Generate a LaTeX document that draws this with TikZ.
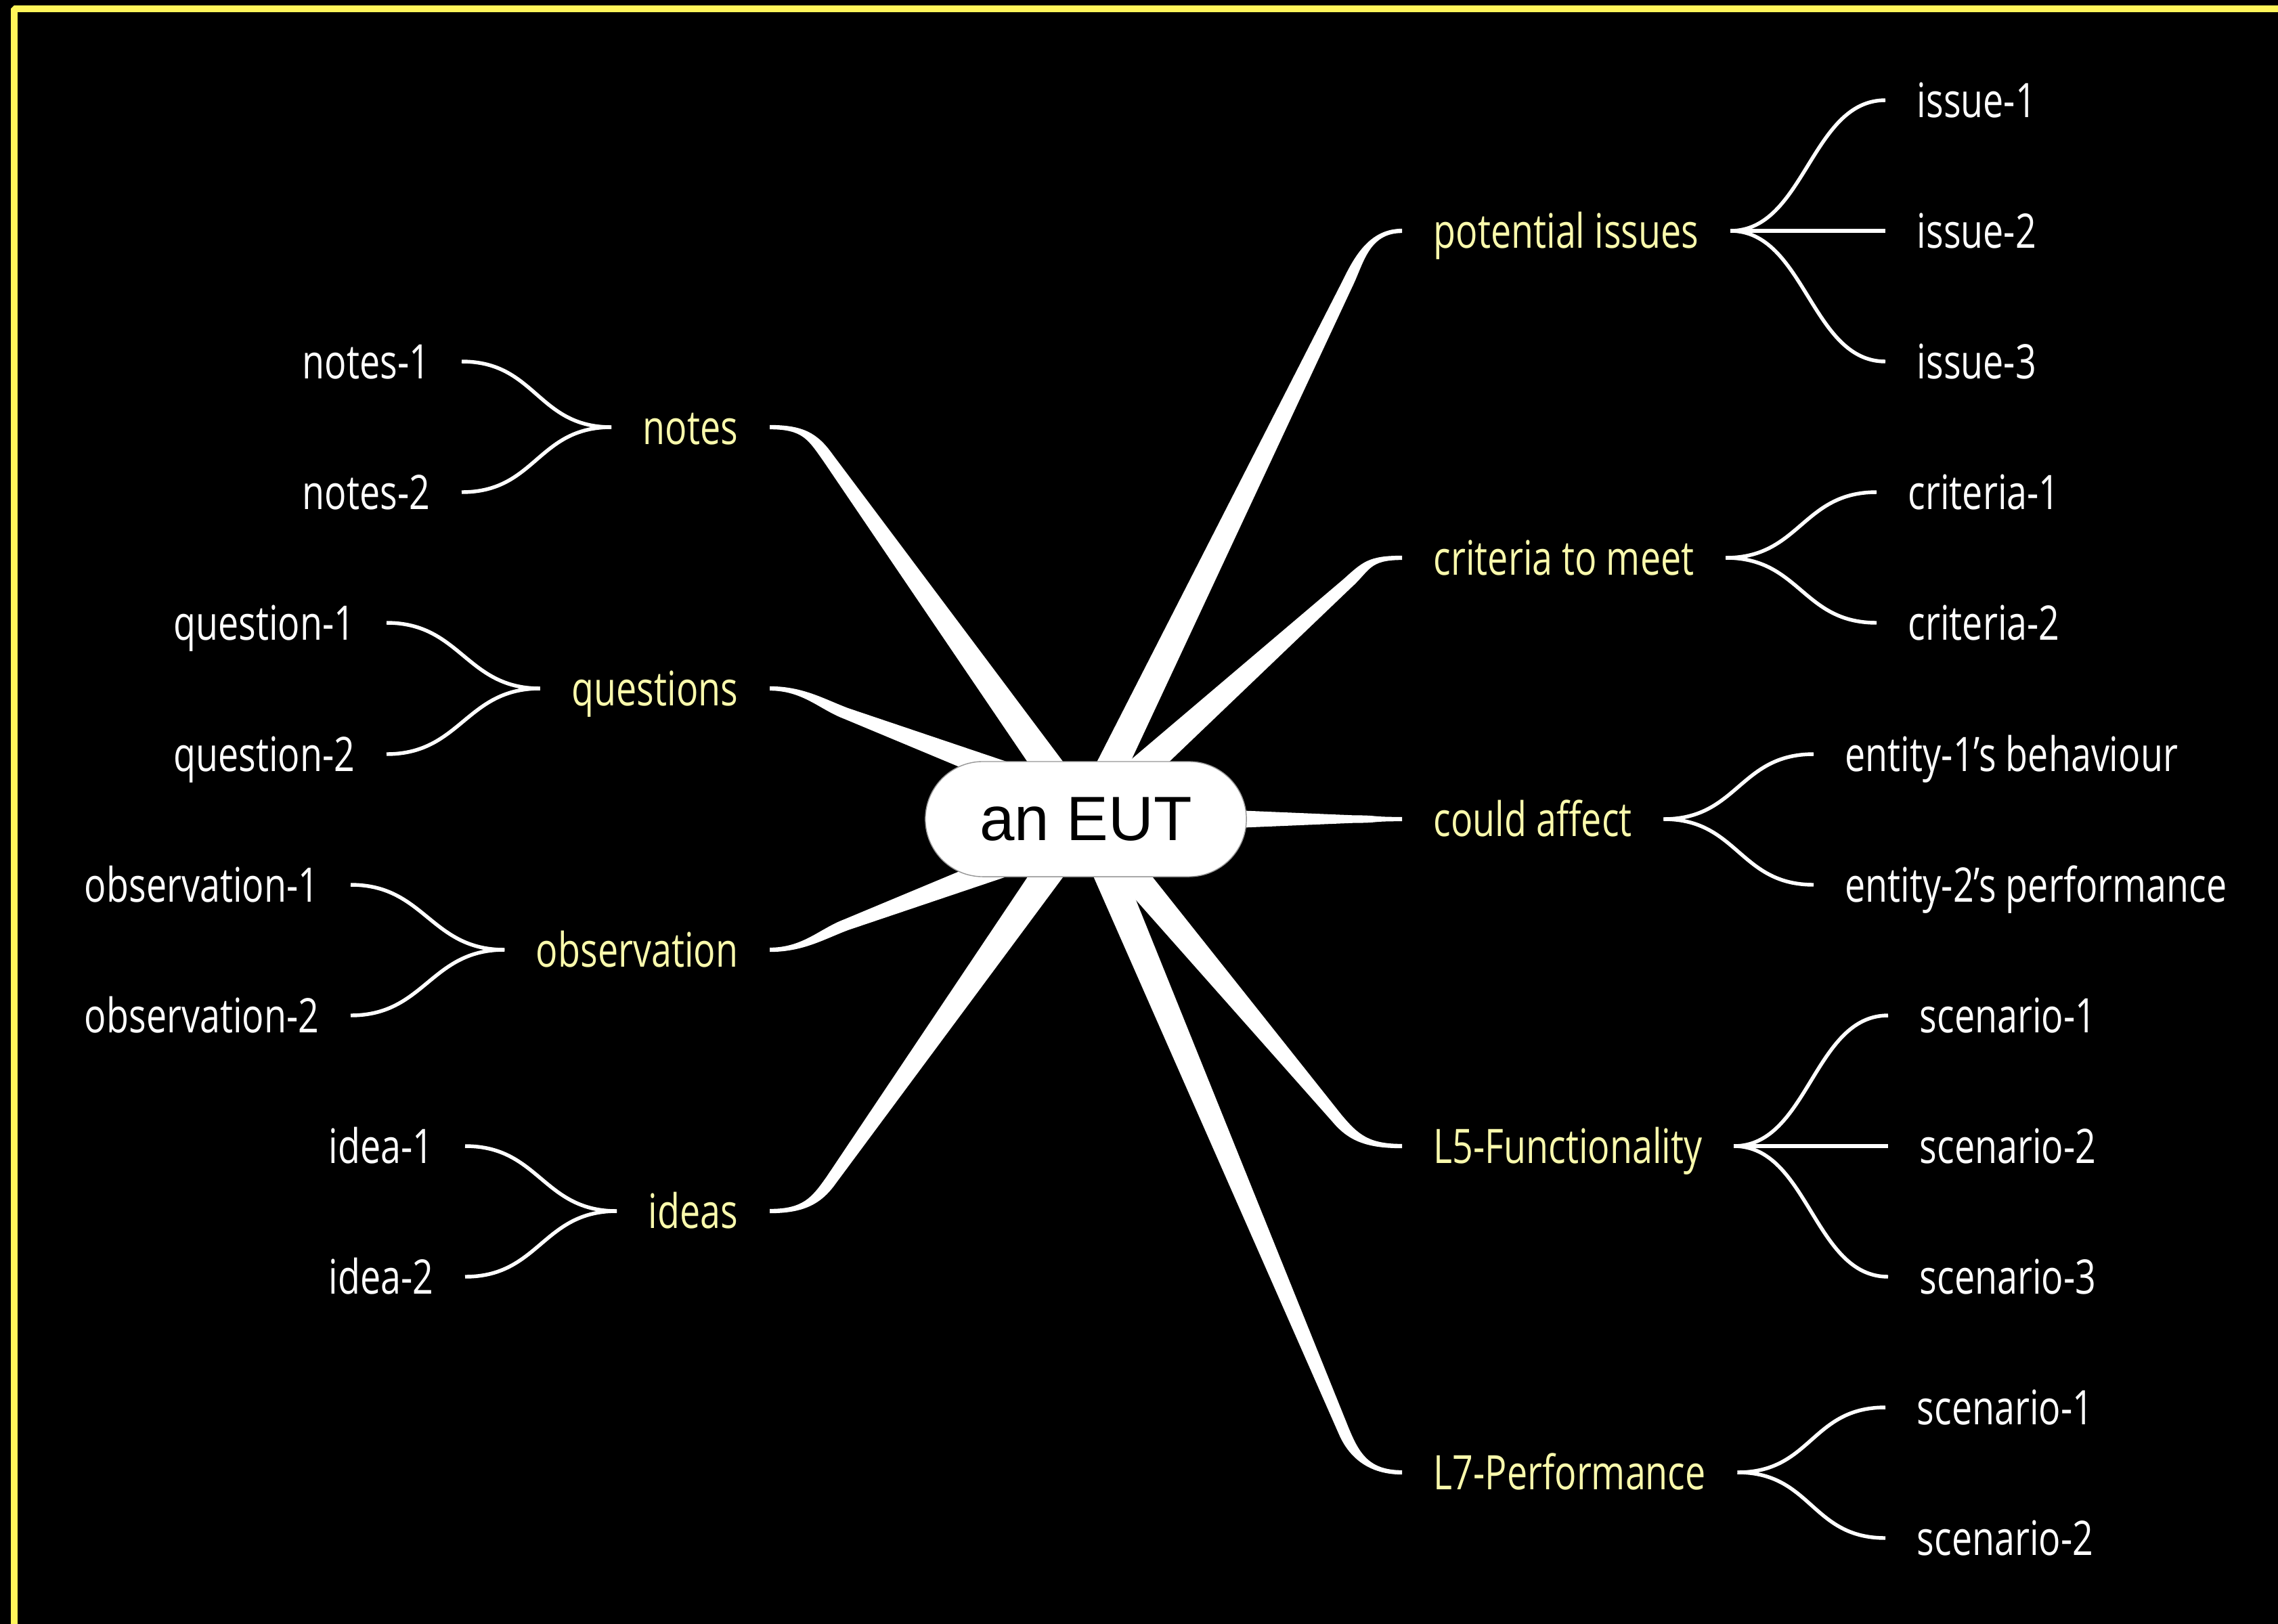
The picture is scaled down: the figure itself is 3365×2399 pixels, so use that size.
\documentclass[tikz,border=0pt]{standalone}
\usepackage{fontspec}
\usetikzlibrary{calc,shapes.misc}
\newfontfamily\leaffont{Open Sans}[FakeStretch=0.765]
\newfontfamily\hubfont{Liberation Sans}
\definecolor{frameyellow}{RGB}{255,245,90}
\definecolor{branchyellow}{RGB}{250,250,172}
\definecolor{hubedge}{RGB}{150,150,150}
\pgfdeclarelayer{backdrop}
\pgfdeclarelayer{limbs}
\pgfsetlayers{backdrop,limbs,main}

% half widths (pt) at origin, corner and tip; control distances (pt)
\def\wa{6.8}\def\wb{2.4}\def\wc{0.9}\def\ca{11}\def\cb{14}

% tapered limb: #1 origin, #2 corner, #3 tip, #4 side (1 = right, -1 = left)
\newcommand\taper[4]{%
  \fill[white] let
    \p1 = (#1), \p2 = (#2), \p3 = (#3),
    \n1 = {veclen(\x2-\x1,\y2-\y1)},
    \n2 = {(\x2-\x1)/\n1},
    \n3 = {(\y2-\y1)/\n1},
    \n4 = {#4}
  in
    ({\x1-\n3*\wa},{\y1+\n2*\wa})
    -- ({\x2-\n3*\wb},{\y2+\n2*\wb})
    .. controls ({\x2+\n2*\ca-\n3*\wb},{\y2+\n3*\ca+\n2*\wb})
            and ({\x3-\n4*\cb},{\y3+\n4*\wc})
    .. ({\x3},{\y3+\n4*\wc})
    -- ({\x3},{\y3-\n4*\wc})
    .. controls ({\x3-\n4*\cb},{\y3-\n4*\wc})
            and ({\x2+\n2*\ca+\n3*\wb},{\y2+\n3*\ca-\n2*\wb})
    .. ({\x2+\n3*\wb},{\y2-\n2*\wb})
    -- ({\x1+\n3*\wa},{\y1-\n2*\wa})
    -- cycle;
}

\begin{document}
\begin{tikzpicture}[x=0.01cm,y=-0.01cm,
  hub/.style={rounded rectangle, fill=white, draw=hubedge, line width=0.4pt,
    minimum width=4.74cm, minimum height=1.70cm, inner sep=0pt,
    font=\hubfont\fontsize{26.3pt}{30pt}\selectfont, text=black},
  topic/.style={text=branchyellow, font=\leaffont\fontsize{20pt}{23pt}\selectfont,
    inner xsep=0.46cm, inner ysep=0pt, text height=14.3pt, text depth=0pt},
  leaf/.style={topic, text=white},
  twig/.style={draw=white, line width=1.55pt},
]
\useasboundingbox (0,0) rectangle (3365,2399);
\begin{pgfonlayer}{backdrop}
  \fill[black] (0,0) rectangle (3365,2399);
  \draw[frameyellow, line width=2.85pt, line join=bevel] (21,2399) -- (21,13) -- (3365,13);
\end{pgfonlayer}

% central topic
\node[hub] (eut) at (1604,1210) {an EUT};

% right-hand topics
\node[topic, anchor=west] (pi) at (2071,341)  {potential issues};
\node[topic, anchor=west] (cm) at (2071,824)  {criteria to meet};
\node[topic, anchor=west] (ca) at (2071,1210) {could affect};
\node[topic, anchor=west] (lf) at (2071,1693) {L5-Functionality};
\node[topic, anchor=west] (lp) at (2071,2175) {L7-Performance};

% right-hand leaves
\node[leaf, anchor=west] (i1) at (2785,148)  {issue-1};
\node[leaf, anchor=west] (i2) at (2785,341)  {issue-2};
\node[leaf, anchor=west] (i3) at (2785,534)  {issue-3};
\node[leaf, anchor=west] (c1) at (2772,727)  {criteria-1};
\node[leaf, anchor=west] (c2) at (2772,920)  {criteria-2};
\node[leaf, anchor=west] (e1) at (2679,1114) {entity-1’s behaviour};
\node[leaf, anchor=west] (e2) at (2679,1307) {entity-2’s performance};
\node[leaf, anchor=west] (s1) at (2789,1500) {scenario-1};
\node[leaf, anchor=west] (s2) at (2789,1693) {scenario-2};
\node[leaf, anchor=west] (s3) at (2789,1886) {scenario-3};
\node[leaf, anchor=west] (t1) at (2785,2079) {scenario-1};
\node[leaf, anchor=west] (t2) at (2785,2272) {scenario-2};

% left-hand topics
\node[topic, anchor=east] (nt) at (1137,631)  {notes};
\node[topic, anchor=east] (qs) at (1137,1017) {questions};
\node[topic, anchor=east] (ob) at (1137,1403) {observation};
\node[topic, anchor=east] (id) at (1137,1789) {ideas};

% left-hand leaves
\node[leaf, anchor=east] (n1) at (682,534)  {notes-1};
\node[leaf, anchor=east] (n2) at (682,727)  {notes-2};
\node[leaf, anchor=east] (q1) at (571,920)  {question-1};
\node[leaf, anchor=east] (q2) at (571,1114) {question-2};
\node[leaf, anchor=east] (o1) at (518,1307) {observation-1};
\node[leaf, anchor=east] (o2) at (518,1500) {observation-2};
\node[leaf, anchor=east] (d1) at (687,1693) {idea-1};
\node[leaf, anchor=east] (d2) at (687,1886) {idea-2};

% limb origins and bends
\coordinate (oside) at (1664,1210);
\coordinate (oca)   at (1700,1210);
\coordinate (kpi) at (1990,420);
\coordinate (kcm) at (1990,862);
\coordinate (kca) at (2000,1210);
\coordinate (klf) at (1975,1652);
\coordinate (klp) at (1985,2114);
\coordinate (knt) at (1223,676);
\coordinate (kqs) at (1250,1054);
\coordinate (kob) at (1250,1366);
\coordinate (kid) at (1228,1743);

\begin{pgfonlayer}{limbs}
  \taper{eut.center}{kpi}{pi.west}{1}
  \taper{eut.center}{kcm}{cm.west}{1}
  {\def\wa{5.2}\def\wb{1.6}\taper{oca}{kca}{ca.west}{1}}
  \taper{eut.center}{klf}{lf.west}{1}
  \taper{eut.center}{klp}{lp.west}{1}
  \taper{eut.center}{knt}{nt.east}{-1}
  \taper{oside}{kqs}{qs.east}{-1}
  \taper{oside}{kob}{ob.east}{-1}
  \taper{eut.center}{kid}{id.east}{-1}
\end{pgfonlayer}

% twigs to the leaves
\draw[twig] (pi.east) .. controls +(110,0) and +(-110,0) .. (i1.west);
\draw[twig] (pi.east) -- (i2.west);
\draw[twig] (pi.east) .. controls +(110,0) and +(-110,0) .. (i3.west);
\draw[twig] (cm.east) .. controls +(110,0) and +(-110,0) .. (c1.west);
\draw[twig] (cm.east) .. controls +(110,0) and +(-110,0) .. (c2.west);
\draw[twig] (ca.east) .. controls +(110,0) and +(-110,0) .. (e1.west);
\draw[twig] (ca.east) .. controls +(110,0) and +(-110,0) .. (e2.west);
\draw[twig] (lf.east) .. controls +(110,0) and +(-110,0) .. (s1.west);
\draw[twig] (lf.east) -- (s2.west);
\draw[twig] (lf.east) .. controls +(110,0) and +(-110,0) .. (s3.west);
\draw[twig] (lp.east) .. controls +(110,0) and +(-110,0) .. (t1.west);
\draw[twig] (lp.east) .. controls +(110,0) and +(-110,0) .. (t2.west);

\draw[twig] (nt.west) .. controls +(-110,0) and +(110,0) .. (n1.east);
\draw[twig] (nt.west) .. controls +(-110,0) and +(110,0) .. (n2.east);
\draw[twig] (qs.west) .. controls +(-110,0) and +(110,0) .. (q1.east);
\draw[twig] (qs.west) .. controls +(-110,0) and +(110,0) .. (q2.east);
\draw[twig] (ob.west) .. controls +(-110,0) and +(110,0) .. (o1.east);
\draw[twig] (ob.west) .. controls +(-110,0) and +(110,0) .. (o2.east);
\draw[twig] (id.west) .. controls +(-110,0) and +(110,0) .. (d1.east);
\draw[twig] (id.west) .. controls +(-110,0) and +(110,0) .. (d2.east);
\end{tikzpicture}
\end{document}
